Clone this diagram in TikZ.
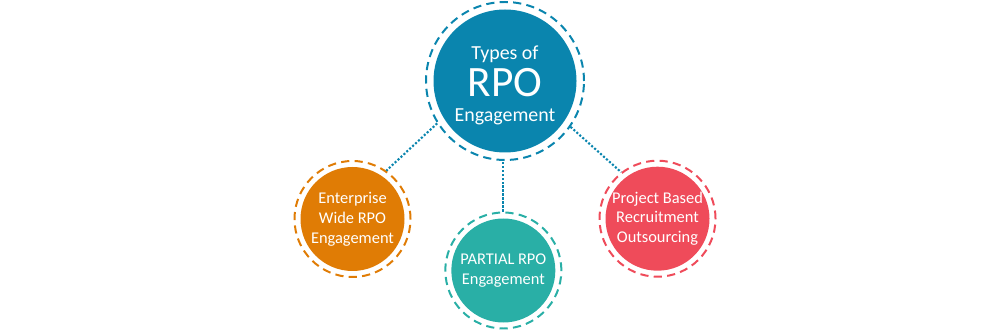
\documentclass[tikz,border=0pt]{standalone}
\usepackage{fontspec}
\setmainfont{Carlito}
\usepackage{xcolor}
\usepackage{tikz}
\definecolor{rpoBlue}{HTML}{0A85AE}
\definecolor{rpoOrange}{HTML}{E07C05}
\definecolor{rpoTeal}{HTML}{29AFA6}
\definecolor{rpoRed}{HTML}{EF4B5A}
\tikzset{
  rpo diagram/.style={line join=round},
  rpo ring/.style n args={3}{circle, draw=#1, line width=1.7pt,
    dash pattern=on 7pt off 4.5pt, inner sep=0pt, minimum size=#2,
    path picture={\fill[#1] (path picture bounding box.center) circle (#3);}},
  rpo text/.style={text=white, align=center, inner sep=0pt,
    font=\fontsize{14}{17}\selectfont},
  rpo title/.style={rpo text, font=\fontsize{17}{32}\selectfont},
  rpo link/.style={draw=rpoBlue, line width=1.8pt,
    dash pattern=on 1.8pt off 1.6pt}
}
\begin{document}
\begin{tikzpicture}[rpo diagram]
\useasboundingbox (0,0) rectangle (30,9.96);
\node[rpo ring={rpoBlue}{4.74cm}{2.145cm}] (hub) at (15.15,7.53) {};
\node[rpo title] (hubtext) at ([yshift=-0.13cm]hub.center)
  {Types of\\{\fontsize{37}{37}\selectfont RPO}\\[-10.7pt]Engagement};
\node[rpo ring={rpoOrange}{3.48cm}{1.56cm}] (enterprise) at (10.575,3.39) {};
\node[rpo text] (enterprisetext) at (enterprise.center)
  {Enterprise\\Wide RPO\\Engagement};
\node[rpo ring={rpoTeal}{3.48cm}{1.56cm}] (partial) at (15.1,1.845) {};
\node[rpo text] (partialtext) at (partial.center)
  {PARTIAL RPO\\Engagement};
\node[rpo ring={rpoRed}{3.48cm}{1.56cm}] (project) at (19.725,3.399) {};
\node[rpo text] (projecttext) at (project.center)
  {Project Based\\Recruitment\\Outsourcing};
\draw[rpo link] (hub.212) -- (enterprise.55);
\draw[rpo link] (hub.325) -- (project.128);
\draw[rpo link] (partial.north) -- (partial.north |- hub.south);
\end{tikzpicture}
\end{document}
